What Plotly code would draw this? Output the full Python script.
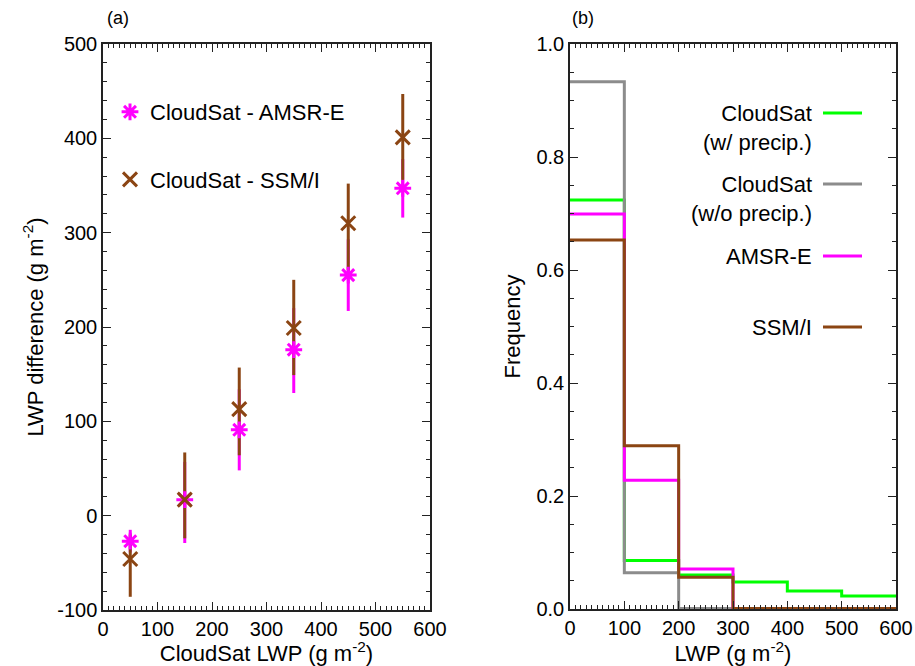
import plotly.graph_objects as go
from plotly.subplots import make_subplots

# ---------------- data ----------------
# Panel (a): LWP difference vs CloudSat LWP bin centre
lwp_bins = [50, 150, 250, 350, 450, 550]
amsr_diff = [-27, 17, 91, 176, 255, 347]
amsr_err_plus = [12, 40, 43, 44, 38, 31]
amsr_err_minus = [12, 46, 43, 46, 38, 31]
ssmi_diff = [-46, 17, 113, 199, 310, 401]
ssmi_err_plus = [26, 50, 44, 51, 42, 46]
ssmi_err_minus = [40, 41, 49, 50, 50, 45]

# Panel (b): frequency histograms
bin_edges = [0, 100, 200, 300, 400, 500, 600]
freq_cs_precip = [0.724, 0.086, 0.060, 0.048, 0.032, 0.023]
freq_cs_noprecip = [0.933, 0.064, 0.001, 0.0, 0.0, 0.0]
freq_amsr = [0.699, 0.228, 0.071, 0.001, 0.001, 0.001]
freq_ssmi = [0.653, 0.289, 0.056, 0.001, 0.001, 0.001]

x_ticks = [0, 100, 200, 300, 400, 500, 600]
ya_ticks = [-100, 0, 100, 200, 300, 400, 500]
ya_ticklabels = ["-100", "0", "100", "200", "300", "400", "500"]
yb_ticks = [0.0, 0.2, 0.4, 0.6, 0.8, 1.0]
yb_ticklabels = ["0.0", "0.2", "0.4", "0.6", "0.8", "1.0"]

legend_b_labels = ["CloudSat<br>(w/ precip.)", "CloudSat<br>(w/o precip.)", "AMSR-E", "SSM/I"]

# ---------------- styling ----------------
W, H = 915, 666
FONT = "Liberation Sans, Arial, sans-serif"
FS = 20      # tick labels
FT = 22      # titles / legend text
MAGENTA = "#FF00FF"
BROWN = "#8B4513"
GREEN = "#00FF00"
GRAY = "#8C8C8C"
AXC = "#222222"


def px(x):
    return x / W


def py(y):
    return 1 - y / H


fig = make_subplots(rows=1, cols=2)

# error bars first, then markers (so markers sit on top)
fig.add_trace(go.Scatter(
    x=lwp_bins, y=amsr_diff, mode="markers", marker=dict(size=1, opacity=0),
    error_y=dict(type="data", symmetric=False, array=amsr_err_plus,
                 arrayminus=amsr_err_minus, color=MAGENTA, thickness=3, width=0),
    showlegend=False, hoverinfo="skip"), row=1, col=1)
fig.add_trace(go.Scatter(
    x=lwp_bins, y=ssmi_diff, mode="markers", marker=dict(size=1, opacity=0),
    error_y=dict(type="data", symmetric=False, array=ssmi_err_plus,
                 arrayminus=ssmi_err_minus, color=BROWN, thickness=3, width=0),
    showlegend=False, hoverinfo="skip"), row=1, col=1)
fig.add_trace(go.Scatter(
    x=lwp_bins, y=amsr_diff, mode="markers", name="CloudSat - AMSR-E",
    legendgroup="a",
    marker=dict(symbol="asterisk-open", size=14, color=MAGENTA,
                line=dict(color=MAGENTA, width=3))), row=1, col=1)
fig.add_trace(go.Scatter(
    x=lwp_bins, y=ssmi_diff, mode="markers", name="CloudSat - SSM/I",
    legendgroup="b",
    marker=dict(symbol="x-thin-open", size=14, color=BROWN,
                line=dict(color=BROWN, width=3))), row=1, col=1)

# histograms as step lines
def step(vals):
    return bin_edges, list(vals) + [vals[-1]]

for vals, col in [(freq_cs_precip, GREEN), (freq_cs_noprecip, GRAY),
                  (freq_amsr, MAGENTA), (freq_ssmi, BROWN)]:
    sx, sy = step(vals)
    fig.add_trace(go.Scatter(x=sx, y=sy, mode="lines", line=dict(color=col, width=3, shape="hv"),
                             showlegend=False, hoverinfo="skip"), row=1, col=2)

axis_common = dict(
    showline=True, linecolor=AXC, linewidth=1.5, mirror="allticks",
    ticks="inside", ticklen=8, tickwidth=1.2, tickcolor=AXC,
    showgrid=False, zeroline=False, automargin=False,
    tickfont=dict(family=FONT, size=FS, color="black"),
)

fig.update_xaxes(**axis_common, range=[0, 600], tickvals=x_ticks,
                 minor=dict(dtick=10, ticks="inside", ticklen=4, tickcolor=AXC, tickwidth=1))
fig.update_xaxes(domain=[px(103), px(430)],
                 title=dict(text="CloudSat LWP (g m<sup>-2</sup>)", font=dict(family=FONT, size=FT),
                            standoff=0),
                 row=1, col=1)
fig.update_xaxes(domain=[px(570), px(896)],
                 title=dict(text="LWP (g m<sup>-2</sup>)", font=dict(family=FONT, size=FT),
                            standoff=0),
                 row=1, col=2)

fig.update_yaxes(**axis_common)
fig.update_yaxes(domain=[py(610), py(44)], range=[-100, 500], tickvals=ya_ticks,
                 ticktext=ya_ticklabels,
                 minor=dict(dtick=20, ticks="inside", ticklen=4, tickcolor=AXC, tickwidth=1),
                 title=dict(text="LWP difference (g m<sup>-2</sup>)", font=dict(family=FONT, size=FT),
                            standoff=8),
                 row=1, col=1)
fig.update_yaxes(domain=[py(609), py(44)], range=[0, 1], tickvals=yb_ticks, ticktext=yb_ticklabels,
                 minor=dict(dtick=0.05, ticks="inside", ticklen=4, tickcolor=AXC, tickwidth=1),
                 title=dict(text="Frequency", font=dict(family=FONT, size=FT), standoff=10),
                 row=1, col=2)

annotations = [
    dict(text="(a)", x=px(105), y=py(18), xref="paper", yref="paper", xanchor="left",
         yanchor="middle", showarrow=False, font=dict(family=FONT, size=18)),
    dict(text="(b)", x=px(570), y=py(18), xref="paper", yref="paper", xanchor="left",
         yanchor="middle", showarrow=False, font=dict(family=FONT, size=18)),
]
shapes = []
legend_b_colors = [GREEN, GRAY, MAGENTA, BROWN]
legend_b_ypix = [113, 184, 256, 327]
for text, col, ypix in zip(legend_b_labels, legend_b_colors, legend_b_ypix):
    two = "<br>" in text
    annotations.append(dict(
        text=text, x=px(814), y=py(ypix - 14) if two else py(ypix), xref="paper", yref="paper",
        xanchor="right", yanchor="top" if two else "middle", align="right", showarrow=False,
        font=dict(family=FONT, size=FT)))
    shapes.append(dict(type="line", xref="paper", yref="paper", x0=px(823), x1=px(862),
                       y0=py(ypix), y1=py(ypix), line=dict(color=col, width=3)))

fig.update_layout(
    width=W, height=H, margin=dict(l=0, r=0, t=0, b=0),
    paper_bgcolor="white", plot_bgcolor="white",
    font=dict(family=FONT, size=FS, color="black"),
    showlegend=True,
    legend=dict(x=px(110), y=py(91), xanchor="left", yanchor="top",
                bgcolor="rgba(0,0,0,0)", traceorder="grouped", tracegroupgap=36,
                font=dict(family=FONT, size=FT), itemsizing="trace"),
    annotations=annotations, shapes=shapes,
)

fig.write_html("out.html")
